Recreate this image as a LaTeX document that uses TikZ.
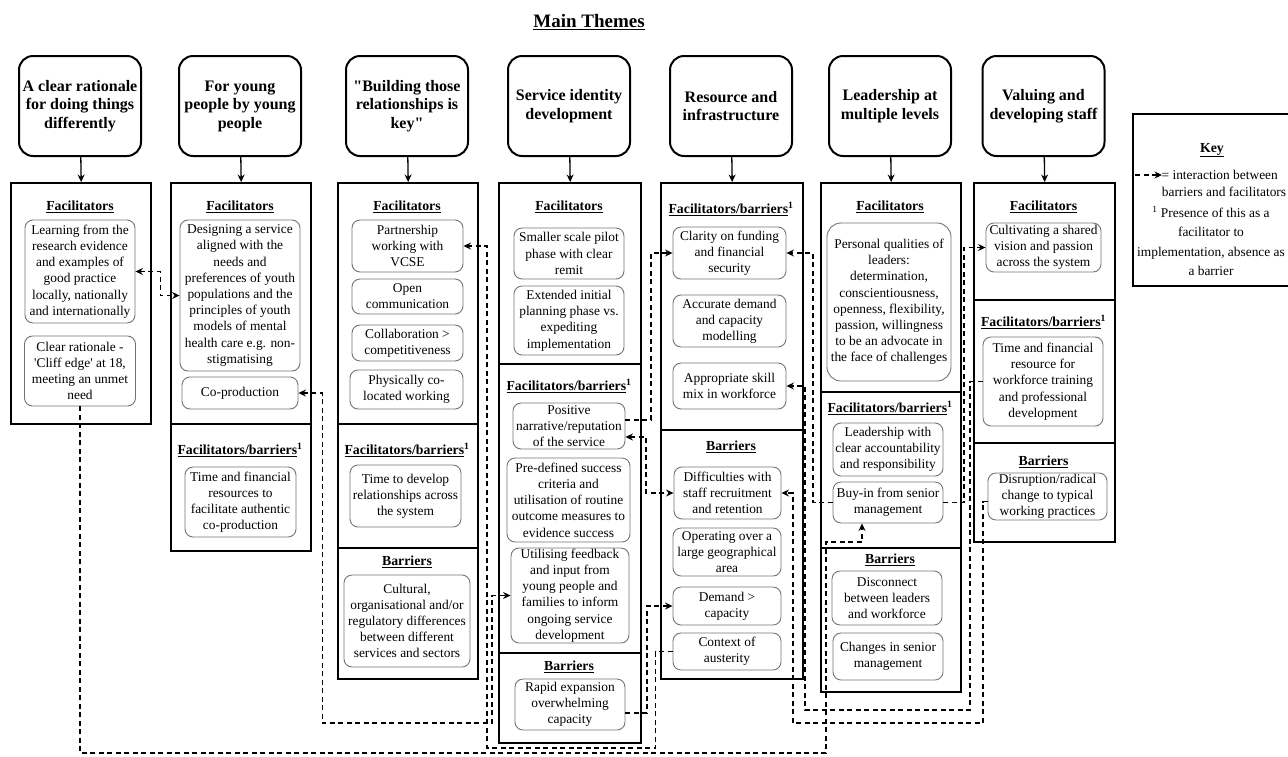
\documentclass[tikz,border=0pt]{standalone}
\usepackage{fontspec}
\setmainfont{Liberation Serif}
\usetikzlibrary{arrows.meta,shapes}
\tikzstyle{theme} = [rectangle, draw, line width=2pt, rounded corners=14pt,
    minimum width=122pt, minimum height=100pt, align=center, inner sep=1pt,
    font=\fontsize{16}{18.5}\selectfont\bfseries]
\tikzstyle{panel} = [rectangle, draw, line width=2.4pt, anchor=north west,
    minimum width=140pt, inner sep=0pt]
\tikzstyle{head} = [font=\fontsize{13.8}{16}\selectfont\bfseries, inner sep=0pt]
\tikzstyle{item} = [rectangle, draw=black!55, line width=0.9pt, rounded corners=8pt,
    align=center, inner sep=0pt]
\tikzstyle{link} = [dash pattern=on 5pt off 3.5pt, line width=1.3pt]
\newcommand{\facbar}{\underline{Facilitators/barriers}\textsuperscript{1}}
\newcommand{\facil}{\underline{Facilitators}}
\newcommand{\barr}{\underline{Barriers}}

\begin{document}
\begin{tikzpicture}[x=1pt,y=-1pt,>={Stealth[length=7.5pt,width=7pt,inset=2.5pt]},
                    line width=1.3pt,font=\fontsize{13.4}{16.2}\selectfont]
  \useasboundingbox (0,0) rectangle (1288,756);

  \node[font=\fontsize{19}{22}\selectfont\bfseries] (title) at (589,22) {\underline{Main Themes}};

  \node[theme] (t1) at (80,106)   {A clear rationale\\for doing things\\differently};
  \node[theme] (t2) at (240,106)  {For young\\people by young\\people};
  \node[theme] (t3) at (407,106)  {\textquotedbl Building those\\relationships is\\key\textquotedbl};
  \node[theme] (t4) at (569,106)  {Service identity\\development};
  \node[theme] (t5) at (731,106)  {Resource and\\infrastructure};
  \node[theme] (t6) at (890,106)  {Leadership at\\multiple levels};
  \node[theme] (t7) at (1043.5,106) {Valuing and\\developing staff};

  \node[panel, minimum height=241pt] (p1a) at (10,182) {};
  \node[panel, minimum height=241pt] (p2a) at (170,182) {};
  \node[panel, minimum height=127pt] (p2b) at (170,423) {};
  \node[panel, minimum height=241pt] (p3a) at (337,182) {};
  \node[panel, minimum height=124pt] (p3b) at (337,423) {};
  \node[panel, minimum height=131pt] (p3c) at (337,547) {};
  \node[panel, minimum width=142pt, minimum height=181pt] (p4a) at (498,182) {};
  \node[panel, minimum width=142pt, minimum height=289pt] (p4b) at (498,363) {};
  \node[panel, minimum width=142pt, minimum height=90pt]  (p4c) at (498,652) {};
  \node[panel, minimum width=142pt, minimum height=247pt] (p5a) at (660,182) {};
  \node[panel, minimum width=142pt, minimum height=249pt] (p5b) at (660,429) {};
  \node[panel, minimum height=209pt] (p6a) at (820,182) {};
  \node[panel, minimum height=156pt] (p6b) at (820,391) {};
  \node[panel, minimum height=144pt] (p6c) at (820,547) {};
  \node[panel, minimum width=141pt, minimum height=117pt] (p7a) at (973,182) {};
  \node[panel, minimum width=141pt, minimum height=143pt] (p7b) at (973,299) {};
  \node[panel, minimum width=141pt, minimum height=99pt]  (p7c) at (973,442) {};

  \draw[->] (t1) -- (p1a.north);
  \draw[->] (t2) -- (p2a.north);
  \draw[->] (t3) -- (p3a.north);
  \draw[->] (t4) -- (p4a.north);
  \draw[->] (t5) -- (p5a.north);
  \draw[->] (t6) -- (p6a.north);
  \draw[->] (t7) -- (p7a.north);

  \node[head] (h1a) at (80,207) {\facil};
  \node[item, minimum width=110pt, minimum height=103pt] (learn) at (80,271.5)
    {Learning from the\\research evidence\\and examples of\\good practice\\locally, nationally\\and internationally};
  \node[item, minimum width=111pt, minimum height=70pt] (cliff) at (80,371)
    {Clear rationale -\\\textquotesingle Cliff edge\textquotesingle{} at 18,\\meeting an unmet\\need};

  \node[head] (h2a) at (240,207) {\facil};
  \node[item, minimum width=120pt, minimum height=151pt] (design) at (240,295.5)
    {Designing a service\\aligned with the\\needs and\\preferences of youth\\populations and the\\principles of youth\\models of mental\\health care e.g. non-\\stigmatising};
  \node[item, minimum width=116pt, minimum height=32pt] (coprod) at (240,393) {Co-production};
  \node[head] (h2b) at (240,450) {\facbar};
  \node[item, minimum width=111pt, minimum height=70pt] (timeres) at (240.5,502)
    {Time and financial\\resources to\\facilitate authentic\\co-production};

  \node[head] (h3a) at (407,207) {\facil};
  \node[item, minimum width=111pt, minimum height=52pt] (partner) at (407.5,246)
    {Partnership\\working with\\VCSE};
  \node[item, minimum width=111pt, minimum height=35pt] (opencomm) at (407.5,296.5)
    {Open\\communication};
  \node[item, minimum width=111pt, minimum height=36pt] (collab) at (407.5,343)
    {Collaboration >\\competitiveness};
  \node[item, minimum width=113pt, minimum height=39pt] (coloc) at (406.5,389.5)
    {Physically co-\\located working};
  \node[head] (h3b) at (407,450) {\facbar};
  \node[item, minimum width=111pt, minimum height=62pt] (timerel) at (405.5,496)
    {Time to develop\\relationships across\\the system};
  \node[head] (h3c) at (407,562) {\barr};
  \node[item, minimum width=126pt, minimum height=92pt] (cultural) at (407,621)
    {Cultural,\\organisational and/or\\regulatory differences\\between different\\services and sectors};

  \node[head] (h4a) at (569,207) {\facil};
  \node[item, minimum width=110pt, minimum height=51pt] (pilot) at (569,253.5)
    {Smaller scale pilot\\phase with clear\\remit};
  \node[item, minimum width=110pt, minimum height=69pt] (extended) at (569,320.5)
    {Extended initial\\planning phase vs.\\expediting\\implementation};
  \node[head] (h4b) at (569,386) {\facbar};
  \node[item, minimum width=112pt, minimum height=46pt] (positive) at (569,426)
    {Positive\\narrative/reputation\\of the service};
  \node[item, minimum width=123pt, minimum height=84pt] (predef) at (568.5,500)
    {Pre-defined success\\criteria and\\utilisation of routine\\outcome measures to\\evidence success};
  \node[item, minimum width=118pt, minimum height=95pt] (utilising) at (570,595.5)
    {Utilising feedback\\and input from\\young people and\\families to inform\\ongoing service\\development};
  \node[head] (h4c) at (569,667) {\barr};
  \node[item, minimum width=110pt, minimum height=51pt] (rapid) at (570,704.5)
    {Rapid expansion\\overwhelming\\capacity};

  \node[head] (h5a) at (731,209) {\facbar};
  \node[item, minimum width=113pt, minimum height=52pt] (clarity) at (729.5,253)
    {Clarity on funding\\and financial\\security};
  \node[item, minimum width=113pt, minimum height=52pt] (accurate) at (729.5,321)
    {Accurate demand\\and capacity\\modelling};
  \node[item, minimum width=113pt, minimum height=46pt] (skillmix) at (729.5,386)
    {Appropriate skill\\mix in workforce};
  \node[head] (h5b) at (731,447) {\barr};
  \node[item, minimum width=107pt, minimum height=52pt] (difficult) at (727.5,493)
    {Difficulties with\\staff recruitment\\and retention};
  \node[item, minimum width=108pt, minimum height=48pt] (operating) at (727,552)
    {Operating over a\\large geographical\\area};
  \node[item, minimum width=108pt, minimum height=38pt] (demand) at (727,606)
    {Demand >\\capacity};
  \node[item, minimum width=108pt, minimum height=37pt] (austerity) at (727,651.5)
    {Context of\\austerity};

  \node[head] (h6a) at (890,207) {\facil};
  \node[item, minimum width=124pt, minimum height=158pt, rounded corners=14pt] (personal) at (889,302)
    {Personal qualities of\\leaders:\\determination,\\conscientiousness,\\openness, flexibility,\\passion, willingness\\to be an advocate in\\the face of challenges};
  \node[head] (h6b) at (890,408) {\facbar};
  \node[item, minimum width=110pt, minimum height=53pt] (leadacc) at (888,449.5)
    {Leadership with\\clear accountability\\and responsibility};
  \node[item, minimum width=110pt, minimum height=41pt] (buyin) at (888,502.5)
    {Buy-in from senior\\management};
  \node[head] (h6c) at (890,560) {\barr};
  \node[item, minimum width=110pt, minimum height=54pt] (disconnect) at (887,598)
    {Disconnect\\between leaders\\and workforce};
  \node[item, minimum width=110pt, minimum height=47pt] (changes) at (888,656.5)
    {Changes in senior\\management};

  \node[head] (h7a) at (1043.5,207) {\facil};
  \node[item, minimum width=115pt, minimum height=49pt] (cultivate) at (1043.5,247.5)
    {Cultivating a shared\\vision and passion\\across the system};
  \node[head] (h7b) at (1043.5,322) {\facbar};
  \node[item, minimum width=120pt, minimum height=89pt] (trainres) at (1043,381.5)
    {Time and financial\\resource for\\workforce training\\and professional\\development};
  \node[head] (h7c) at (1043.5,462) {\barr};
  \node[item, minimum width=119pt, minimum height=47pt] (disrupt) at (1047.5,496.5)
    {Disruption/radical\\change to typical\\working practices};

  \node[panel, line width=2pt, minimum width=166pt, minimum height=172pt] (keybox) at (1132,113) {};
  \node[head] (keyh) at (1212,150) {\underline{Key}};
  \coordinate (ka) at (1135,175);
  \coordinate (kb) at (1162,175);
  \draw[link,->] (ka) -- (kb);
  \node[anchor=west, inner sep=0pt] (k1) at (1161,175) {= interaction between};
  \node[inner sep=0pt] (k2) at (1224,192) {barriers and facilitators};
  \node[inner sep=0pt, align=center, font=\fontsize{13.4}{19.5}\selectfont] (k3) at (1211,241)
    {\textsuperscript{1} Presence of this as a\\facilitator to\\implementation, absence as\\a barrier};

  \draw[link,<->] (learn.east) -- ++(25,0) |- (design.west);
  \draw[link,->] (cliff.south) -- (80,753) -| (826,542) -| ([xshift=-26pt]buyin.south);
  \draw[link,->] (austerity.west) -- ++(-17,0) |- (487,748) |- (partner.east);
  \draw[link,<->] (coprod.east) -- ++(24,0) |- (492,723) |- (utilising.west);
  \draw[link,->] ([yshift=-8.5pt]rapid.east) -- (647,713) |- (demand.west);
  \draw[link,->] ([yshift=6pt]positive.east) -- (651,420) |- (clarity.west);
  \draw[link,<->] ([yshift=-11pt]positive.east) -- (646,437) |- (difficult.west);
  \draw[link,->] (buyin.west) -- (813,502.5) |- (clarity.east);
  \draw[link,->] ([yshift=-5pt]disrupt.west) -- (983,501.5) |- (793,723) |- (difficult.east);
  \draw[link,->] (trainres.west) -- (970,381.5) |- (805,710) |- (skillmix.east);
  \draw[link,->] (buyin.east) -- (964,502.5) |- (cultivate.west);
\end{tikzpicture}
\end{document}
